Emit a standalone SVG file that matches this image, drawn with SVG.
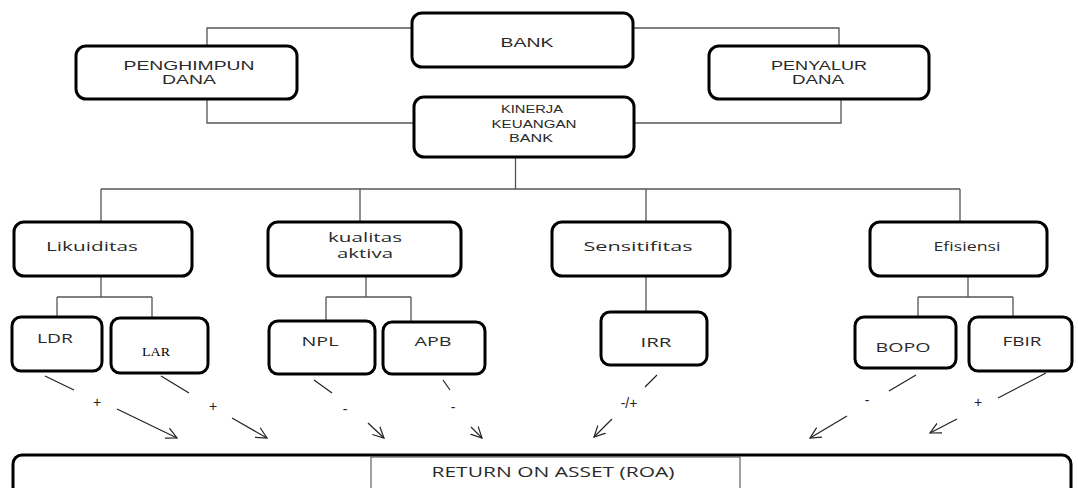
<svg xmlns="http://www.w3.org/2000/svg" width="1078" height="488" viewBox="0 0 1078 488">
<style>
.box{fill:#fff;stroke:#000;stroke-width:3}
.conn{fill:none;stroke:#555;stroke-width:1.3}
.arr{fill:none;stroke:#222;stroke-width:1.2}
.cap{font-family:"Liberation Sans",Arial,sans-serif;fill:#2a2a2a;text-anchor:middle}
.cal{font-family:"Open Sans","Liberation Sans",sans-serif;fill:#2a2a2a;text-anchor:middle}
.ser{font-family:"Liberation Serif","Times New Roman",serif;fill:#000;text-anchor:middle}
.sign{font-family:"Liberation Sans",Arial,sans-serif;fill:#222;font-size:14px;text-anchor:middle}
</style>
<defs>
<marker id="ah" viewBox="0 0 12 12" refX="11" refY="6" markerWidth="12" markerHeight="12" markerUnits="userSpaceOnUse" orient="auto">
<path d="M0,0.5 L11,6 L0,11.5" fill="none" stroke="#222" stroke-width="1.2"/>
</marker>
</defs>
<rect width="1078" height="488" fill="#fff"/>
<g id="connectors">
<path class="conn" d="M207,46 V28 H412"/>
<path class="conn" d="M633,28 H839 V46"/>
<path class="conn" d="M207,99 V123 H414"/>
<path class="conn" d="M634,123 H841 V99"/>
<path class="conn" d="M515.5,157 V189"/>
<path class="conn" d="M101,189 H960"/>
<path class="conn" d="M101,189 V222 M360,189 V222 M646,189 V222 M960,189 V222"/>
<path class="conn" d="M101,276 V297 M57,297 H152 M57,297 V317 M152,297 V318"/>
<path class="conn" d="M366,276 V297 M326,297 H411 M326,297 V321 M411,297 V322"/>
<path class="conn" d="M646,276 V312"/>
<path class="conn" d="M968,276 V297 M918,297 H1013 M918,297 V317 M1013,297 V317"/>
<path class="arr" d="M45,376 L74,390 M117,409 L177,438" marker-end="url(#ah)"/>
<path class="arr" d="M161,376 L189,393 M232,418 L267,438" marker-end="url(#ah)"/>
<path class="arr" d="M314,380 L332,393 M368,423 L384,438" marker-end="url(#ah)"/>
<path class="arr" d="M443,380 L450,390 M471,427 L482,438" marker-end="url(#ah)"/>
<path class="arr" d="M657,375 L645,387 M612,419 L594,437" marker-end="url(#ah)"/>
<path class="arr" d="M916,375 L889,391 M847,416 L810,438" marker-end="url(#ah)"/>
<path class="arr" d="M1046,373 L998,398 M957,419 L930,433" marker-end="url(#ah)"/>
<text class="sign" x="97" y="407">+</text>
<text class="sign" x="213" y="411">+</text>
<text class="sign" x="345" y="414">-</text>
<text class="sign" x="453" y="412">-</text>
<text class="sign" x="629" y="408">-/+</text>
<text class="sign" x="867" y="405">-</text>
<text class="sign" x="978" y="407">+</text>
</g>
<g id="bank">
<rect class="box" x="412" y="13" width="221" height="54" rx="10"/>
<text class="cap" x="527" y="47" font-size="12" textLength="53" lengthAdjust="spacingAndGlyphs">BANK</text>
</g>
<g id="penghimpun">
<rect class="box" x="76" y="46" width="221" height="53" rx="10"/>
<text class="cap" x="189" y="70" font-size="12" textLength="131" lengthAdjust="spacingAndGlyphs">PENGHIMPUN</text>
<text class="cap" x="189" y="84" font-size="12" textLength="54" lengthAdjust="spacingAndGlyphs">DANA</text>
</g>
<g id="penyalur">
<rect class="box" x="709" y="46" width="220" height="53" rx="10"/>
<text class="cap" x="819" y="70" font-size="12" textLength="96" lengthAdjust="spacingAndGlyphs">PENYALUR</text>
<text class="cap" x="818" y="84" font-size="12" textLength="52" lengthAdjust="spacingAndGlyphs">DANA</text>
</g>
<g id="kinerja">
<rect class="box" x="414" y="97" width="220" height="60" rx="10"/>
<text class="cap" x="532" y="113" font-size="10" textLength="62" lengthAdjust="spacingAndGlyphs">KINERJA</text>
<text class="cap" x="534" y="128" font-size="10" textLength="85" lengthAdjust="spacingAndGlyphs">KEUANGAN</text>
<text class="cap" x="531" y="142" font-size="10" textLength="44" lengthAdjust="spacingAndGlyphs">BANK</text>
</g>
<g id="likuiditas">
<rect class="box" x="14" y="222" width="178" height="54" rx="10"/>
<text class="cal" x="92" y="251" font-size="12" textLength="92" lengthAdjust="spacingAndGlyphs">Likuiditas</text>
</g>
<g id="kualitas">
<rect class="box" x="268" y="222" width="193" height="54" rx="10"/>
<text class="cal" x="365" y="242" font-size="12" textLength="74" lengthAdjust="spacingAndGlyphs">kualitas</text>
<text class="cal" x="365" y="258" font-size="12" textLength="56" lengthAdjust="spacingAndGlyphs">aktiva</text>
</g>
<g id="sensitifitas">
<rect class="box" x="552" y="222" width="178" height="54" rx="10"/>
<text class="cal" x="638" y="251" font-size="12" textLength="109" lengthAdjust="spacingAndGlyphs">Sensitifitas</text>
</g>
<g id="efisiensi">
<rect class="box" x="870" y="222" width="177" height="54" rx="10"/>
<text class="cal" x="967" y="251" font-size="12" textLength="67" lengthAdjust="spacingAndGlyphs">Efisiensi</text>
</g>
<g id="ldr">
<rect class="box" x="12" y="317" width="90" height="54" rx="9"/>
<text class="cal" x="55" y="343" font-size="12" textLength="36" lengthAdjust="spacingAndGlyphs">LDR</text>
</g>
<g id="lar">
<rect class="box" x="111" y="318" width="97" height="55" rx="9"/>
<text class="ser" x="156" y="356" font-size="12" textLength="28" lengthAdjust="spacingAndGlyphs">LAR</text>
</g>
<g id="npl">
<rect class="box" x="269" y="321" width="106" height="53" rx="9"/>
<text class="cal" x="320" y="346" font-size="12" textLength="37" lengthAdjust="spacingAndGlyphs">NPL</text>
</g>
<g id="apb">
<rect class="box" x="383" y="322" width="102" height="52" rx="9"/>
<text class="cal" x="433" y="346" font-size="12" textLength="37" lengthAdjust="spacingAndGlyphs">APB</text>
</g>
<g id="irr">
<rect class="box" x="601" y="312" width="106" height="53" rx="9"/>
<text class="cal" x="656" y="347" font-size="12" textLength="31" lengthAdjust="spacingAndGlyphs">IRR</text>
</g>
<g id="bopo">
<rect class="box" x="855" y="317" width="101" height="51" rx="9"/>
<text class="cal" x="903" y="352" font-size="12" textLength="55" lengthAdjust="spacingAndGlyphs">BOPO</text>
</g>
<g id="fbir">
<rect class="box" x="969" y="317" width="103" height="54" rx="9"/>
<text class="cal" x="1022" y="346" font-size="12" textLength="39" lengthAdjust="spacingAndGlyphs">FBIR</text>
</g>
<g id="roa">
<rect class="box" x="13" y="455" width="1058" height="60" rx="9"/>
<rect x="371" y="457" width="369" height="40" fill="#fff" stroke="#444" stroke-width="1"/>
<text class="cal" x="553" y="477" font-size="14" textLength="243" lengthAdjust="spacingAndGlyphs">RETURN ON ASSET (ROA)</text>
</g>
</svg>
